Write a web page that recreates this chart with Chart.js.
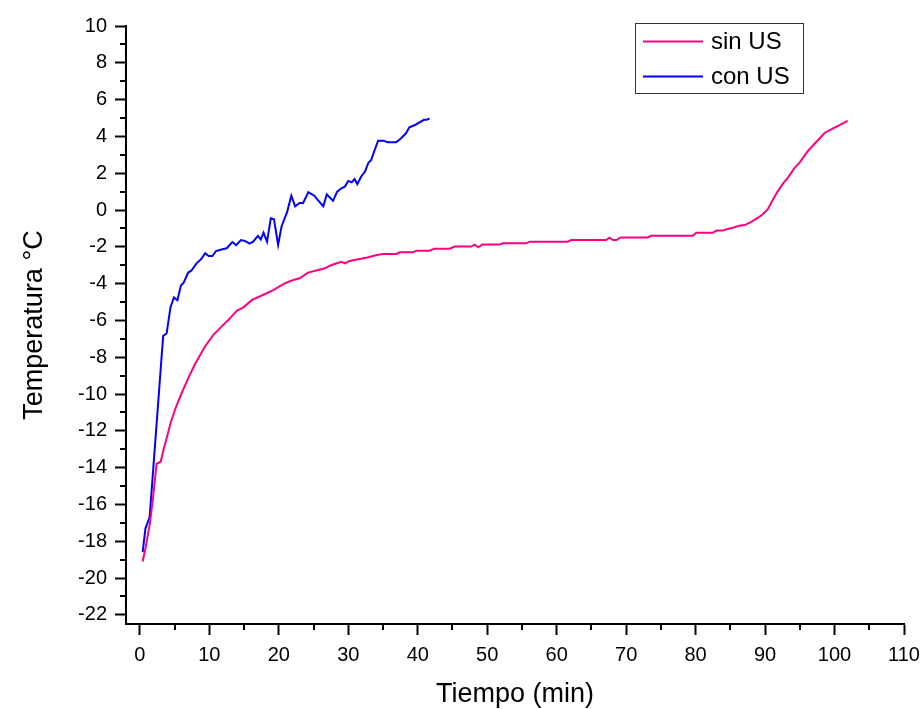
<!DOCTYPE html>
<html>
<head>
<meta charset="utf-8">
<script src="https://cdn.jsdelivr.net/npm/chart.js@4.4.1/dist/chart.umd.min.js"></script>
<style>
  html, body { margin: 0; padding: 0; background: #fff; }
</style>
</head>
<body>
<canvas id="tempChart" width="922" height="709"></canvas>
<script>
// con US (blue) - time in min, temperature in °C
const conTime = [0.4, 0.8, 1.4, 3.35, 3.85, 4.4, 4.9, 5.4, 5.9, 6.3, 6.95, 7.4, 8.15, 8.8, 9.4, 9.9,
  10.45, 10.95, 11.75, 12.5, 13.3, 13.85, 14.55, 15.1, 15.8, 16.3, 17.0, 17.4, 17.8, 18.3, 18.85,
  19.3, 19.9, 20.4, 21.2, 21.8, 22.35, 23.0, 23.5, 24.25, 25.1, 25.6, 26.4, 26.9, 27.8, 28.4, 29.0,
  29.5, 30.0, 30.5, 30.9, 31.3, 31.9, 32.4, 32.9, 33.3, 33.8, 34.3, 35.0, 35.7, 36.9, 37.6, 38.3,
  38.8, 39.6, 40.2, 40.9, 41.3, 41.7];
const conTemp = [-18.6, -17.3, -16.7, -6.85, -6.7, -5.3, -4.75, -4.9, -4.1, -3.95, -3.4, -3.3, -2.9, -2.68, -2.35, -2.5,
  -2.5, -2.23, -2.15, -2.08, -1.74, -1.91, -1.63, -1.68, -1.83, -1.72, -1.41, -1.6, -1.23, -1.72, -0.45,
  -0.5, -1.9, -0.88, -0.1, 0.78, 0.2, 0.38, 0.38, 0.97, 0.78, 0.55, 0.2, 0.85, 0.5, 1.0, 1.18,
  1.27, 1.58, 1.5, 1.68, 1.41, 1.85, 2.08, 2.57, 2.72, 3.26, 3.77, 3.77, 3.68, 3.68, 3.9, 4.17,
  4.5, 4.62, 4.75, 4.9, 4.9, 4.98];

// sin US (magenta)
const sinTime = [0.4, 0.85, 1.45, 1.9, 2.4, 3.0, 3.35, 3.85, 4.4, 5.1, 6.0, 6.95, 7.9, 9.35, 10.55, 11.75,
  12.95, 13.4, 14.0, 14.9, 16.1, 17.7, 19.2, 20.9, 22.1, 23.0, 24.2, 25.7, 26.6, 27.6, 29.0, 29.5,
  30.2, 31.4, 32.6, 34.1, 35.0, 36.9, 37.4, 39.3, 39.8, 41.7, 42.4, 44.6, 45.3, 47.7, 48.2, 48.7,
  49.3, 51.8, 52.2, 55.6, 56.1, 61.6, 62.1, 67.1, 67.6, 68.1, 68.6, 69.2, 73.1, 73.6, 79.6, 80.1,
  82.5, 83.0, 83.9, 84.6, 85.4, 86.3, 87.1, 88.0, 89.0, 89.7, 90.4, 91.1, 91.8, 92.6, 93.3, 94.2,
  95.0, 96.2, 97.4, 98.6, 99.8, 101.0, 101.9];
const sinTemp = [-19.1, -18.3, -17.0, -15.6, -13.8, -13.68, -13.1, -12.4, -11.6, -10.8, -9.96, -9.15, -8.4, -7.43, -6.8, -6.34,
  -5.9, -5.7, -5.47, -5.29, -4.9, -4.62, -4.35, -3.98, -3.8, -3.71, -3.4, -3.26, -3.17, -2.99, -2.81, -2.9,
  -2.77, -2.68, -2.59, -2.45, -2.39, -2.39, -2.3, -2.3, -2.21, -2.21, -2.1, -2.1, -1.99, -1.99, -1.88, -2.03,
  -1.88, -1.88, -1.81, -1.81, -1.72, -1.72, -1.63, -1.63, -1.5, -1.63, -1.63, -1.49, -1.49, -1.4, -1.4, -1.23,
  -1.23, -1.12, -1.12, -1.03, -0.96, -0.85, -0.82, -0.64, -0.42, -0.22, 0.04, 0.54, 1.0, 1.45, 1.76, 2.26,
  2.59, 3.22, 3.71, 4.2, 4.44, 4.67, 4.85];

// axis ticks
const xMajor = [0, 10, 20, 30, 40, 50, 60, 70, 80, 90, 100, 110];
const xMinor = [5, 15, 25, 35, 45, 55, 65, 75, 85, 95, 105];
const yMajor = [-22, -20, -18, -16, -14, -12, -10, -8, -6, -4, -2, 0, 2, 4, 6, 8, 10];
const yMinor = [-21, -19, -17, -15, -13, -11, -9, -7, -5, -3, -1, 1, 3, 5, 7, 9];

function toPoints(xs, ys) {
  return xs.map((x, i) => ({ x: x, y: ys[i] }));
}

Chart.defaults.font.family = '"Liberation Sans", Arial, sans-serif';
Chart.defaults.color = "#000";

// short minor ticks on both axes
const minorTicks = {
  id: "minorTicks",
  afterDraw(chart) {
    const { ctx, scales } = chart;
    const x = scales.x, y = scales.y;
    ctx.save();
    ctx.strokeStyle = "#000";
    ctx.lineWidth = 2;
    ctx.beginPath();
    xMinor.forEach((v) => {
      const px = Math.round(x.getPixelForValue(v));
      ctx.moveTo(px, x.top);
      ctx.lineTo(px, x.top + 6);
    });
    yMinor.forEach((v) => {
      const py = Math.round(y.getPixelForValue(v));
      ctx.moveTo(y.right, py);
      ctx.lineTo(y.right - 6, py);
    });
    ctx.stroke();
    ctx.restore();
  },
};

// boxed legend inside the plot, top right
const boxLegend = {
  id: "boxLegend",
  afterDraw(chart) {
    const { ctx, chartArea } = chart;
    const left = chartArea.right - 269;
    const top = chartArea.top - 3;
    const w = 168, h = 70;
    ctx.save();
    ctx.fillStyle = "#fff";
    ctx.fillRect(left, top, w, h);
    ctx.strokeStyle = "#333";
    ctx.lineWidth = 1;
    ctx.strokeRect(left + 0.5, top + 0.5, w, h);
    ctx.font = '24px "Liberation Sans", Arial, sans-serif';
    ctx.textBaseline = "middle";
    chart.data.datasets.forEach((ds, i) => {
      const yy = top + 18.5 + i * 35;
      ctx.strokeStyle = ds.borderColor;
      ctx.lineWidth = 2;
      ctx.beginPath();
      ctx.moveTo(left + 8, yy);
      ctx.lineTo(left + 68, yy);
      ctx.stroke();
      ctx.fillStyle = "#000";
      ctx.fillText(ds.label, left + 76, yy + 1);
    });
    ctx.restore();
  },
};

const ctx = document.getElementById("tempChart").getContext("2d");
new Chart(ctx, {
  type: "line",
  data: {
    datasets: [
      {
        label: "sin US",
        data: toPoints(sinTime, sinTemp),
        borderColor: "#ff0080",
        borderWidth: 2,
        pointRadius: 0,
        tension: 0,
        fill: false,
      },
      {
        label: "con US",
        data: toPoints(conTime, conTemp),
        borderColor: "#0000ff",
        borderWidth: 2,
        pointRadius: 0,
        tension: 0,
        fill: false,
      },
    ],
  },
  options: {
    responsive: false,
    animation: false,
    layout: { padding: { top: 26, right: 18, left: 0, bottom: 0 } },
    plugins: {
      legend: { display: false },
      tooltip: { enabled: false },
    },
    scales: {
      x: {
        type: "linear",
        min: -2,
        max: 110,
        afterBuildTicks: (scale) => {
          scale.ticks = xMajor.map((v) => ({ value: v }));
        },
        afterFit: (scale) => {
          scale.height = 85;
          scale.paddingLeft = 0;
          scale.paddingRight = 18;
        },
        grid: {
          drawOnChartArea: false,
          drawTicks: true,
          tickLength: 11,
          tickWidth: 2,
          tickColor: "#000",
        },
        border: { display: true, color: "#000", width: 2 },
        ticks: {
          autoSkip: false,
          maxRotation: 0,
          padding: 8,
          font: { size: 20 },
        },
        title: {
          display: true,
          text: "Tiempo (min)",
          font: { size: 27 },
          padding: { top: 0, bottom: -2 },
        },
      },
      y: {
        min: -22.5,
        max: 10,
        afterBuildTicks: (scale) => {
          scale.ticks = yMajor.map((v) => ({ value: v }));
        },
        afterFit: (scale) => {
          scale.width = 126;
        },
        grid: {
          drawOnChartArea: false,
          drawTicks: true,
          tickLength: 11,
          tickWidth: 2,
          tickColor: "#000",
        },
        border: { display: true, color: "#000", width: 2 },
        ticks: {
          autoSkip: false,
          padding: 8,
          font: { size: 20 },
        },
        title: {
          display: true,
          text: "Temperatura °C",
          font: { size: 27 },
          padding: { top: 18, bottom: 0 },
        },
      },
    },
  },
  plugins: [minorTicks, boxLegend],
});
</script>
</body>
</html>
